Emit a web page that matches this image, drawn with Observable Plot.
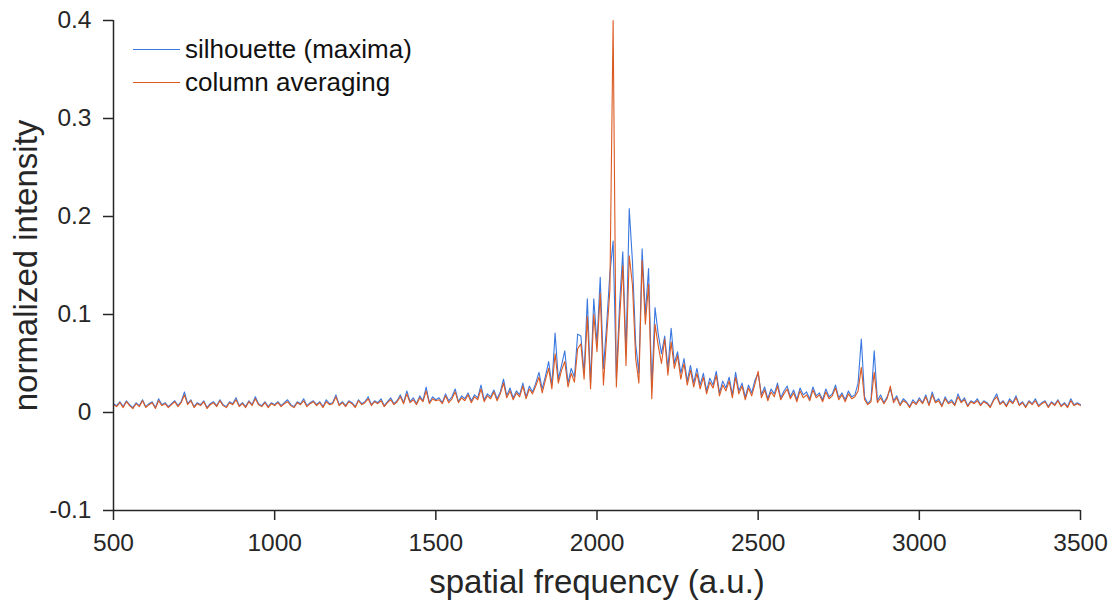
<!DOCTYPE html>
<html>
<head>
<meta charset="utf-8">
<script src="https://cdn.jsdelivr.net/npm/d3@7"></script>
<script src="https://cdn.jsdelivr.net/npm/@observablehq/plot@0.6"></script>
<style>
  html, body { margin: 0; padding: 0; background: #fff; }
  #wrap { position: relative; width: 1117px; height: 602px; font-family: "Liberation Sans", Arial, sans-serif; }
  #legend { position: absolute; left: 133px; top: 33px; font-size: 26px; color: #111; }
  #legend .row { display: flex; align-items: center; height: 33px; }
  #legend .sw { width: 47px; height: 0; border-top: 1.3px solid; margin-right: 5px; }
  [aria-label="x-axis label"], [aria-label="y-axis label"] { font-size: 33px; }
</style>
</head>
<body>
<div id="wrap"></div>
<script>
// ---- data ----
const freqStart = 500;   // first spatial frequency sample (a.u.)
const freqStep = 10;     // sample spacing (a.u.)

const seriesNames = ["silhouette (maxima)", "column averaging"];
const seriesColors = ["#3a78e0", "#dc5a22"];

const silhouette = [
  .009,.007,.011,.006,.012,.008,.005,.010,.007,.013,
  .006,.009,.011,.005,.014,.008,.010,.006,.009,.012,
  .007,.011,.021,.009,.013,.006,.010,.008,.012,.005,
  .009,.011,.007,.013,.008,.006,.011,.009,.015,.007,
  .010,.006,.012,.008,.016,.009,.007,.011,.006,.010,
  .008,.011,.007,.010,.013,.008,.006,.011,.009,.014,
  .007,.010,.012,.008,.011,.006,.013,.009,.010,.018,
  .008,.011,.007,.012,.010,.006,.013,.009,.011,.016,
  .008,.012,.010,.014,.007,.011,.015,.009,.012,.018,
  .010,.022,.011,.015,.009,.017,.012,.026,.010,.016,
  .013,.015,.010,.019,.012,.016,.024,.011,.017,.014,
  .020,.012,.018,.015,.028,.013,.019,.016,.023,.014,
  .021,.034,.017,.025,.015,.022,.018,.030,.016,.027,
  .021,.030,.041,.024,.037,.052,.028,.081,.034,.048,
  .063,.030,.045,.036,.080,.078,.040,.116,.030,.116,
  .070,.138,.045,.090,.142,.175,.035,.110,.164,.060,
  .208,.154,.070,.040,.167,.100,.147,.025,.107,.080,
  .060,.078,.045,.086,.050,.062,.040,.055,.032,.048,
  .030,.045,.028,.040,.022,.035,.028,.042,.020,.032,
  .025,.036,.018,.041,.022,.030,.016,.028,.020,.033,
  .040,.018,.026,.014,.024,.019,.030,.015,.022,.027,
  .016,.023,.013,.025,.018,.021,.014,.026,.017,.020,
  .013,.024,.016,.019,.028,.015,.020,.013,.022,.016,
  .018,.030,.075,.016,.009,.013,.063,.012,.018,.010,
  .016,.024,.012,.017,.008,.014,.011,.006,.013,.009,
  .015,.010,.018,.008,.021,.011,.014,.007,.016,.010,
  .013,.008,.019,.011,.015,.007,.012,.010,.014,.008,
  .012,.010,.006,.013,.019,.009,.012,.007,.014,.010,
  .017,.008,.011,.006,.012,.009,.014,.007,.010,.012,
  .006,.011,.008,.013,.007,.010,.006,.014,.008,.010,
  .008
];

const columnAveraging = [
  .008,.006,.010,.005,.011,.007,.004,.009,.006,.012,
  .005,.008,.010,.004,.012,.007,.009,.005,.008,.011,
  .006,.010,.018,.008,.012,.005,.009,.007,.011,.004,
  .008,.010,.006,.012,.007,.005,.010,.008,.013,.006,
  .009,.005,.011,.007,.014,.008,.006,.010,.005,.009,
  .007,.010,.006,.009,.011,.007,.005,.010,.008,.012,
  .006,.009,.011,.007,.010,.005,.011,.008,.009,.016,
  .007,.010,.006,.011,.009,.005,.012,.008,.010,.014,
  .007,.011,.009,.012,.006,.010,.013,.008,.011,.016,
  .009,.019,.010,.013,.008,.015,.011,.022,.009,.014,
  .012,.013,.009,.017,.010,.014,.021,.010,.015,.012,
  .018,.010,.016,.013,.024,.011,.017,.014,.021,.012,
  .019,.030,.015,.022,.013,.020,.016,.027,.014,.024,
  .019,.027,.036,.020,.033,.045,.024,.060,.030,.043,
  .052,.026,.040,.031,.065,.070,.034,.098,.024,.100,
  .062,.122,.028,.078,.125,.400,.026,.095,.150,.048,
  .160,.130,.055,.030,.155,.090,.131,.014,.090,.068,
  .050,.075,.038,.072,.045,.058,.034,.050,.028,.043,
  .026,.040,.024,.036,.019,.031,.025,.038,.017,.028,
  .022,.032,.015,.036,.019,.027,.013,.025,.017,.029,
  .042,.015,.023,.012,.021,.016,.027,.013,.019,.024,
  .014,.020,.011,.022,.015,.018,.012,.023,.015,.018,
  .011,.021,.014,.017,.025,.013,.018,.011,.019,.014,
  .016,.022,.046,.013,.008,.011,.041,.010,.015,.009,
  .014,.027,.010,.015,.007,.012,.010,.005,.011,.008,
  .013,.009,.016,.007,.018,.010,.012,.006,.014,.009,
  .011,.007,.016,.010,.013,.006,.011,.009,.012,.007,
  .011,.009,.005,.012,.016,.008,.011,.006,.012,.009,
  .015,.007,.010,.005,.011,.008,.012,.006,.009,.011,
  .005,.010,.007,.012,.006,.009,.005,.012,.007,.009,
  .007
];

const xDomain = [500, 3500];
const yDomain = [-0.1, 0.4];
const xTicks = [500, 1000, 1500, 2000, 2500, 3000, 3500];
const xTickLabels = ["500", "1000", "1500", "2000", "2500", "3000", "3500"];
const yTicks = [-0.1, 0, 0.1, 0.2, 0.3, 0.4];
const yTickLabels = ["-0.1", "0", "0.1", "0.2", "0.3", "0.4"];
const xLabel = "spatial frequency (a.u.)";
const yLabel = "normalized intensity";

// ---- build table ----
const toRows = (vals) => vals.map((v, i) => ({freq: freqStart + i * freqStep, value: v}));
const blueRows = toRows(silhouette);
const orangeRows = toRows(columnAveraging);

const axisColor = "#262626";

const chart = Plot.plot({
  width: 1117,
  height: 602,
  marginLeft: 113,
  marginRight: 37,
  marginTop: 20,
  marginBottom: 92,
  style: {fontFamily: "'Liberation Sans', Arial, sans-serif", fontSize: "24px", color: axisColor, background: "#fff"},
  x: {domain: xDomain},
  y: {domain: yDomain},
  marks: [
    Plot.line(blueRows, {x: "freq", y: "value", stroke: seriesColors[0], strokeWidth: 1.1}),
    Plot.line(orangeRows, {x: "freq", y: "value", stroke: seriesColors[1], strokeWidth: 1.1}),
    Plot.ruleX([xDomain[0]], {stroke: axisColor, strokeWidth: 1.5}),
    Plot.ruleY([yDomain[0]], {stroke: axisColor, strokeWidth: 1.5}),
    Plot.axisX({
      ticks: xTicks,
      tickFormat: d => xTickLabels[xTicks.indexOf(d)],
      tickSize: 10, tickPadding: 13, strokeWidth: 1.5, fontSize: 24.5,
      label: xLabel, labelAnchor: "center", labelArrow: "none", labelOffset: 82
    }),
    Plot.axisY({
      ticks: yTicks,
      tickFormat: d => yTickLabels[yTicks.indexOf(d)],
      tickSize: 10, tickPadding: 12, strokeWidth: 1.5, fontSize: 24.5,
      label: yLabel, labelAnchor: "center", labelArrow: "none", labelOffset: 100
    })
  ]
});

const wrap = document.getElementById("wrap");
wrap.appendChild(chart);

const legend = document.createElement("div");
legend.id = "legend";
seriesNames.forEach((name, i) => {
  const row = document.createElement("div");
  row.className = "row";
  const sw = document.createElement("span");
  sw.className = "sw";
  sw.style.borderTopColor = seriesColors[i];
  const tx = document.createElement("span");
  tx.textContent = name;
  row.appendChild(sw);
  row.appendChild(tx);
  legend.appendChild(row);
});
wrap.appendChild(legend);
</script>
</body>
</html>
